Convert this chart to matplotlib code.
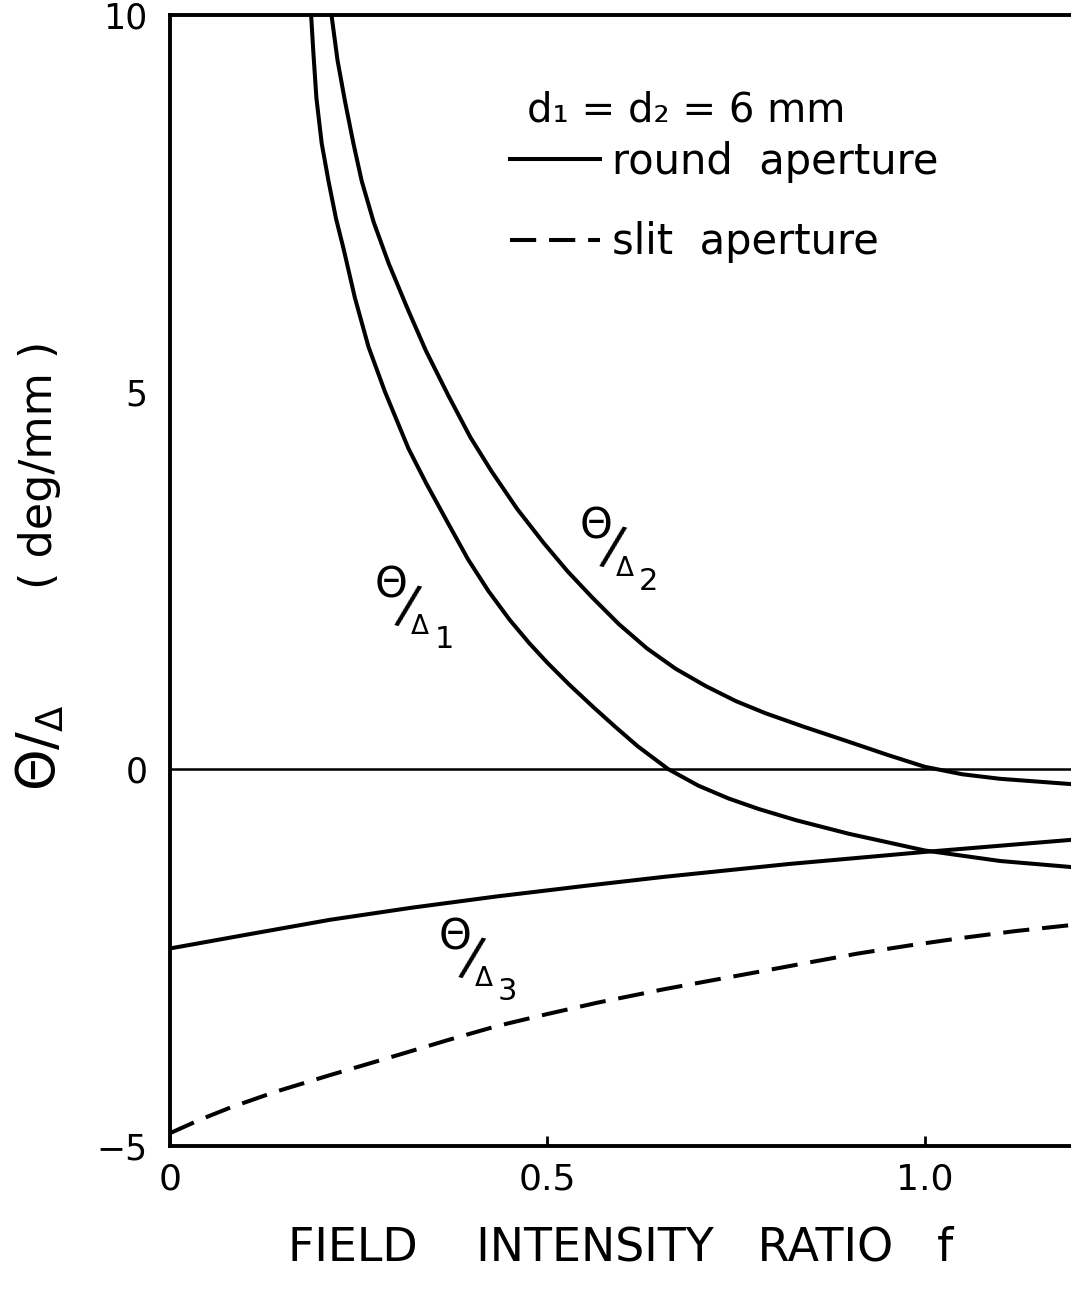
import matplotlib.pyplot as plt

# values (f, theta/delta in deg/mm)
f_d1 = [0.187, 0.190, 0.194, 0.201, 0.21, 0.22, 0.23, 0.245, 0.263, 0.285,
        0.316, 0.34, 0.369, 0.395, 0.422, 0.45, 0.476, 0.50, 0.529, 0.56,
        0.59, 0.62, 0.66, 0.70, 0.74, 0.78, 0.83, 0.90, 1.0, 1.1, 1.194]
th_d1 = [10.0, 9.5, 8.9, 8.3, 7.8, 7.3, 6.9, 6.25, 5.6, 5.0,
         4.25, 3.78, 3.25, 2.78, 2.36, 1.98, 1.67, 1.41, 1.12, 0.83,
         0.56, 0.3, 0.0, -0.22, -0.39, -0.53, -0.68, -0.86, -1.08, -1.22, -1.3]

f_d2 = [0.214, 0.222, 0.232, 0.243, 0.254, 0.27, 0.29, 0.315, 0.339, 0.369,
        0.398, 0.426, 0.46, 0.495, 0.527, 0.56, 0.595, 0.632, 0.67, 0.71,
        0.75, 0.789, 0.84, 0.894, 0.95, 1.0, 1.05, 1.1, 1.194]
th_d2 = [10.0, 9.4, 8.85, 8.3, 7.8, 7.25, 6.7, 6.1, 5.55, 4.95,
         4.4, 3.95, 3.45, 3.0, 2.62, 2.27, 1.92, 1.6, 1.33, 1.1,
         0.9, 0.74, 0.56, 0.38, 0.19, 0.03, -0.07, -0.13, -0.2]

f_d3 = [0.0, 0.1, 0.212, 0.32, 0.433, 0.55, 0.655, 0.82, 1.0, 1.194]
th_d3_round = [-2.38, -2.2, -2.0, -1.84, -1.69, -1.55, -1.43, -1.26, -1.1, -0.94]

f_d3s = [0.0, 0.04, 0.08, 0.14, 0.212, 0.30, 0.37, 0.433, 0.5, 0.566,
         0.655, 0.72, 0.78, 0.85, 0.91, 0.98, 1.05, 1.12, 1.194]
th_d3_slit = [-4.83, -4.65, -4.49, -4.28, -4.06, -3.8, -3.59, -3.41, -3.25, -3.1,
              -2.92, -2.8, -2.69, -2.56, -2.45, -2.34, -2.24, -2.15, -2.07]

xticks = [0, 0.5, 1.0]
xticklabels = ['0', '0.5', '1.0']
yticks = [-5, 0, 5, 10]
yticklabels = ['\u22125', '0', '5', '10']

# where each curve label sits (centre of the theta)
label_idx = ['1', '2', '3']
label_f = [0.293, 0.5645, 0.3777]
label_th = [2.43, 3.21, -2.23]

plt.rcParams['font.family'] = 'DejaVu Sans'
plt.rcParams['mathtext.fontset'] = 'dejavusans'

W, H = 1071, 1291
fig = plt.figure(figsize=(W / 100, H / 100), dpi=100)
ax = fig.add_axes([170 / W, 1 - 1146 / H, 1 - 170 / W, (1146 - 15) / H])

lw = 2.9
ax.plot(f_d1, th_d1, color='black', lw=lw)
ax.plot(f_d2, th_d2, color='black', lw=lw)
round_line, = ax.plot(f_d3, th_d3_round, color='black', lw=lw)
slit_line, = ax.plot(f_d3s, th_d3_slit, color='black', lw=lw,
                     linestyle=(0, (6.5, 3.2)))
ax.axhline(0, color='black', lw=1.8)

ax.set_xlim(0, 1.194)
ax.set_ylim(-5, 10)
ax.spines['right'].set_visible(False)
for s in ['left', 'top', 'bottom']:
    ax.spines[s].set_linewidth(2.8)

ax.set_xticks(xticks)
ax.set_xticklabels(xticklabels)
ax.set_yticks(yticks)
ax.set_yticklabels(yticklabels)
ax.tick_params(axis='x', direction='in', length=7, width=2, labelsize=26, pad=12)
ax.tick_params(axis='y', length=0, labelsize=25, pad=16)

# curve labels drawn as theta, long slash, small delta and a lowered index
def curve_label(x, y, idx):
    kw = dict(xycoords='data', textcoords='offset points',
              ha='center', va='center')
    ax.annotate('\u0398', (x, y), xytext=(0, 0), fontsize=30, **kw)
    ax.annotate('/', (x, y), xytext=(12, -16), fontsize=38, rotation=-14, **kw)
    ax.annotate('\u0394', (x, y), xytext=(21, -30), fontsize=19, **kw)
    ax.annotate(idx, (x, y), xytext=(38, -39), fontsize=22, **kw)

for x, y, idx in zip(label_f, label_th, label_idx):
    curve_label(x, y, idx)

# axis titles
ax.set_xlabel('FIELD    INTENSITY   RATIO   f', fontsize=33)
ax.xaxis.set_label_coords(0.5, -0.07)
fig.text(40 / W, 1 - 748 / H, r'$\Theta/_{\Delta}$', rotation=90,
         ha='center', va='center', fontsize=38)
fig.text(40 / W, 1 - 465 / H, '( deg/mm )', rotation=90,
         ha='center', va='center', fontsize=32)

# legend
ax.text((527 - 170) / 901, (1146 - 110) / 1131, 'd\u2081 = d\u2082 = 6 mm',
        transform=ax.transAxes, ha='left', va='center', fontsize=29)
ax.legend(handles=[round_line, slit_line],
          labels=['round  aperture', 'slit  aperture'],
          fontsize=30, frameon=False, loc='upper left',
          bbox_to_anchor=((510 - 170) / 901, (1146 - 141) / 1131),
          borderpad=0, borderaxespad=0, handlelength=2.16,
          handletextpad=0.29, labelspacing=0.92)

fig.savefig('out.png', dpi=100)
